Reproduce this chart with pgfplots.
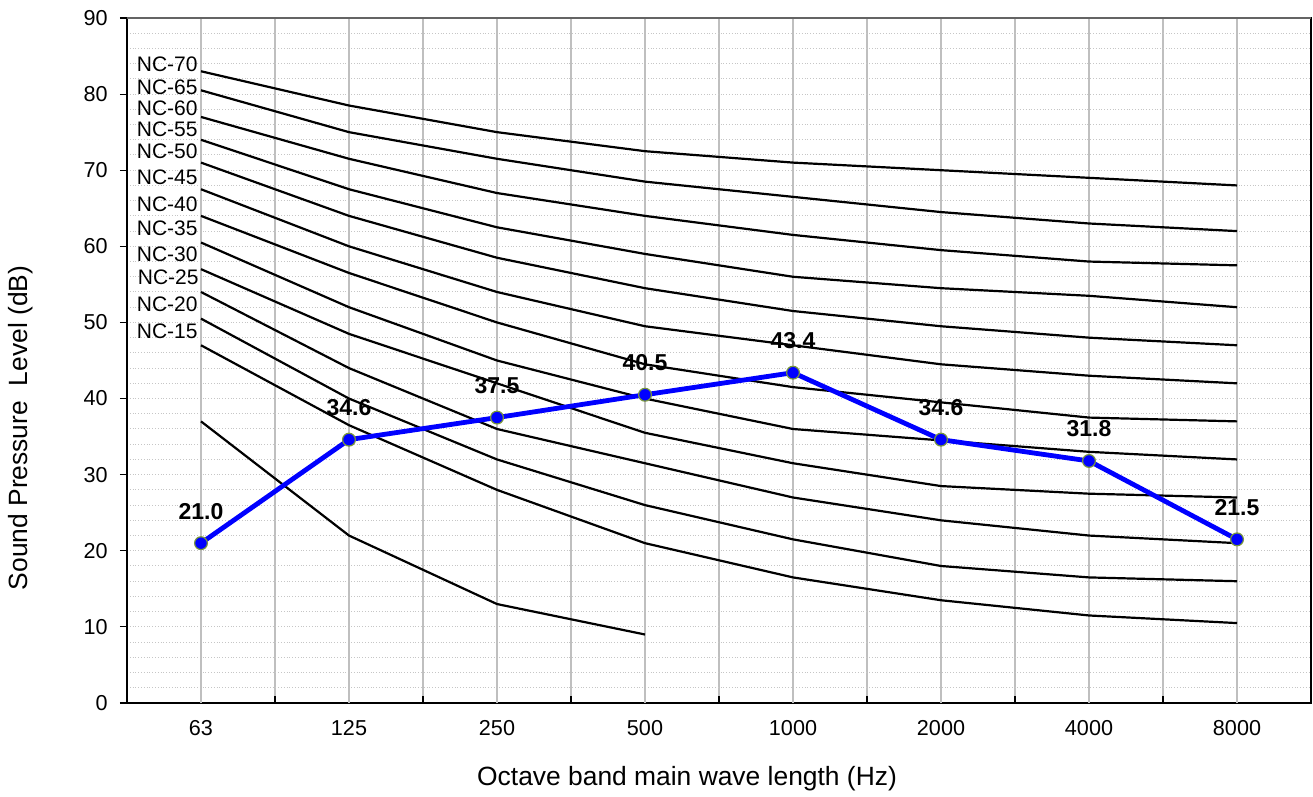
\documentclass[border=0pt]{standalone}
\usepackage{pgfplots}
\usepackage{pgfplotstable}
\pgfplotsset{compat=1.18}
\usepackage{fontspec}
\setmainfont{Liberation Sans}
\definecolor{mkedge}{RGB}{120,150,60}
\definecolor{topline}{RGB}{100,100,100}

\pgfplotstableread{
x nca nc70 nc65 nc60 nc55 nc50 nc45 nc40 nc35 nc30 nc25 nc20 nc15
0 37 83 80.5 77 74 71 67.5 64 60.5 57 54 50.5 47
1 22 78.5 75 71.5 67.5 64 60 56.5 52 48.5 44 40 36.5
2 13 75 71.5 67 62.5 58.5 54 50 45 42 36 32 28
3 9 72.5 68.5 64 59 54.5 49.5 44.5 40 35.5 31.5 26 21
4 nan 71 66.5 61.5 56 51.5 47 41.5 36 31.5 27 21.5 16.5
5 nan 70 64.5 59.5 54.5 49.5 44.5 39.5 34.5 28.5 24 18 13.5
6 nan 69 63 58 53.5 48 43 37.5 33 27.5 22 16.5 11.5
7 nan 68 62 57.5 52 47 42 37 32 27 21 16 10.5
}\nctable

\pgfplotstableread{
x y
0 21.0
1 34.6
2 37.5
3 40.5
4 43.4
5 34.6
6 31.8
7 21.5
}\meas

\begin{document}
\begin{tikzpicture}
\begin{axis}[
  width=592pt, height=342.5pt, scale only axis,
  xmin=-0.5, xmax=7.5, ymin=0, ymax=90,
  xtick={0.5,1.5,...,6.5}, xticklabels={},
  extra x ticks={0,1,2,3,4,5,6,7},
  extra x tick labels={63,125,250,500,1000,2000,4000,8000},
  extra x tick style={grid=major, major tick length=0pt},
  ytick={0,10,...,90},
  minor ytick={2,4,...,88},
  xmajorgrids=true, ymajorgrids=false, yminorgrids=true,
  major grid style={solid, gray!50, line width=0.8pt},
  minor grid style={densely dotted, gray!45, line width=0.5pt},
  tick align=inside, major tick length=3.5pt, minor tick length=0pt,
  ytick style={xshift=-3.5pt},
  xtick pos=bottom, ytick pos=left,
  tick style={black, line width=0.6pt},
  axis line style={black, line width=0.6pt},
  ticklabel style={font=\fontsize{10.8}{12}\selectfont},
  yticklabel style={inner sep=0pt, xshift=-9.5pt},
  xticklabel style={inner sep=0pt, yshift=-8.5pt},
  /pgf/number format/assume math mode=true,
  xlabel={Octave band main wave length (Hz)},
  ylabel={Sound Pressure\ \ Level (dB)},
  label style={font=\fontsize{13.2}{15}\selectfont},
  xlabel style={at={(axis description cs:0.473,-0.111)}, anchor=center, inner sep=0pt},
  ylabel style={at={(axis description cs:-0.0895,0.4015)}, anchor=center, inner sep=0pt},
  unbounded coords=jump,
]
\pgfplotsset{nc/.style={black, line width=1.1pt, mark=none, forget plot}}
\addplot[nc] table[x=x, y=nca] {\nctable};
\addplot[nc] table[x=x, y=nc70] {\nctable};
\addplot[nc] table[x=x, y=nc65] {\nctable};
\addplot[nc] table[x=x, y=nc60] {\nctable};
\addplot[nc] table[x=x, y=nc55] {\nctable};
\addplot[nc] table[x=x, y=nc50] {\nctable};
\addplot[nc] table[x=x, y=nc45] {\nctable};
\addplot[nc] table[x=x, y=nc40] {\nctable};
\addplot[nc] table[x=x, y=nc35] {\nctable};
\addplot[nc] table[x=x, y=nc30] {\nctable};
\addplot[nc] table[x=x, y=nc25] {\nctable};
\addplot[nc] table[x=x, y=nc20] {\nctable};
\addplot[nc] table[x=x, y=nc15] {\nctable};

\addplot[color=blue, line width=2.4pt, mark=*, mark size=3.2pt,
  mark options={fill=blue, draw=mkedge, line width=0.6pt, solid},
  nodes near coords={\pgfmathprintnumber[fixed,fixed zerofill,precision=1,assume math mode=true]{\pgfplotspointmeta}},
  every node near coord/.append style={font=\bfseries\fontsize{11.5}{13}\selectfont, anchor=base, inner sep=0pt, yshift=12pt, text=black},
  point meta=explicit] table[x=x, y=y, meta=y] {\meas};

\begin{scope}[every node/.style={font=\fontsize{10.5}{12}\selectfont, anchor=base east, inner sep=0pt, xshift=-1.5pt}]
\node at (axis cs:0,82.97) {NC-70};
\node at (axis cs:0,79.95) {NC-65};
\node at (axis cs:0,77.19) {NC-60};
\node at (axis cs:0,74.43) {NC-55};
\node at (axis cs:0,71.54) {NC-50};
\node at (axis cs:0,68.12) {NC-45};
\node at (axis cs:0,64.58) {NC-40};
\node at (axis cs:0,61.42) {NC-35};
\node at (axis cs:0,58.01) {NC-30};
\node[xshift=0.5pt] at (axis cs:0,54.99) {NC-25};
\node at (axis cs:0,51.44) {NC-20};
\node at (axis cs:0,47.89) {NC-15};
\end{scope}
\draw[topline, line width=1.2pt] (rel axis cs:0,1) -- (rel axis cs:1,1);
\end{axis}
\path (current axis.south west) ++(-63.5pt,-46.5pt) coordinate (bbA);
\path (current axis.north east) ++(1pt,9pt) coordinate (bbB);
\path[draw=none] (bbA) rectangle (bbB);
\end{tikzpicture}
\end{document}
